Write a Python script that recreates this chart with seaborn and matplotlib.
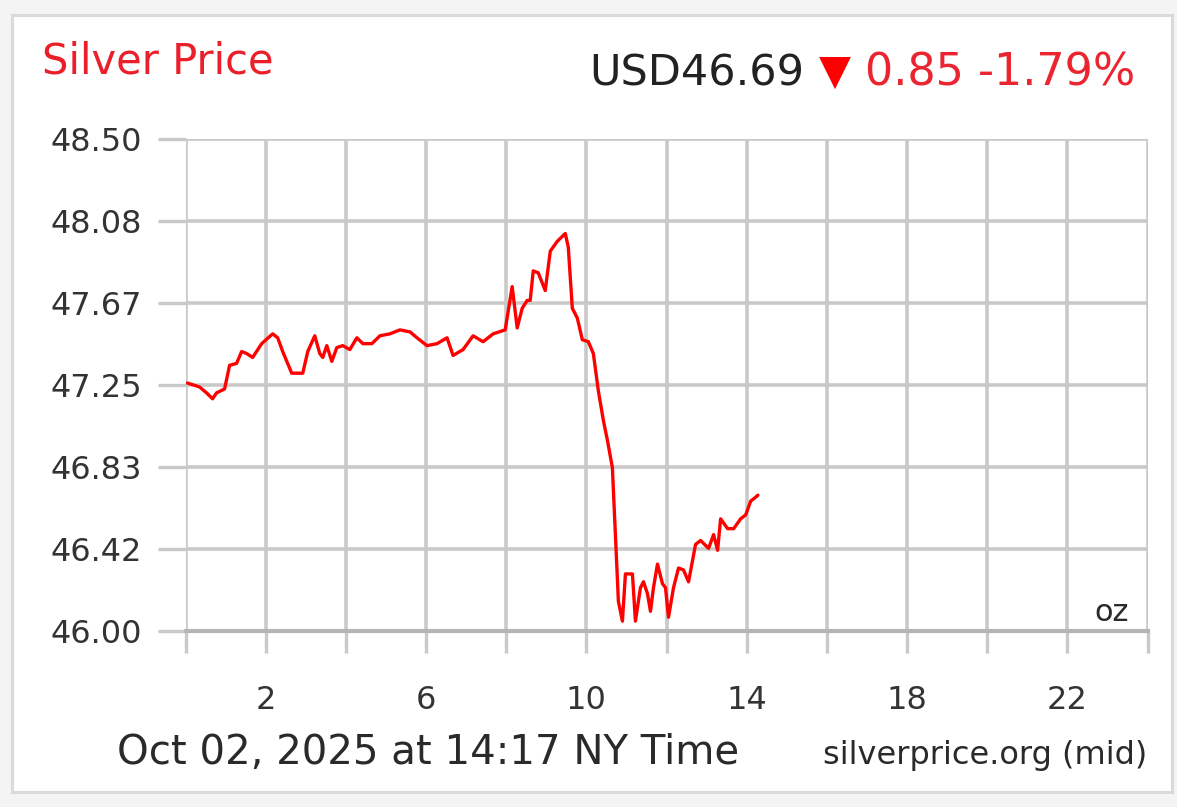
import matplotlib
matplotlib.use("Agg")
import matplotlib.pyplot as plt
from matplotlib.patches import Rectangle
import seaborn as sns
import pandas as pd

# ---- data ----
hours = [0.05, 0.35, 0.525, 0.675, 0.775, 0.975, 1.1, 1.275, 1.4, 1.525, 1.675, 1.9,
         2.175, 2.3, 2.425, 2.65, 2.925, 3.05, 3.225, 3.35, 3.425, 3.525, 3.65, 3.775,
         3.925, 4.1, 4.275, 4.425, 4.65, 4.85, 5.1, 5.35, 5.6, 5.775, 6.025, 6.275,
         6.525, 6.675, 6.925, 7.175, 7.425, 7.675, 7.975, 8.15, 8.275, 8.4, 8.525, 8.6,
         8.675, 8.8, 8.975, 9.1, 9.275, 9.475, 9.55, 9.65, 9.775, 9.9, 10.05, 10.175,
         10.3, 10.425, 10.525, 10.65, 10.725, 10.8, 10.9, 10.975, 11.15, 11.225, 11.35,
         11.425, 11.525, 11.6, 11.675, 11.775, 11.9, 11.975, 12.05, 12.175, 12.3,
         12.425, 12.55, 12.725, 12.85, 13.05, 13.175, 13.275, 13.35, 13.525, 13.675,
         13.85, 13.975, 14.1, 14.225, 14.28]
prices = [47.26, 47.24, 47.21, 47.18, 47.21, 47.23, 47.35, 47.36, 47.42, 47.41, 47.39, 47.46,
          47.51, 47.49, 47.42, 47.31, 47.31, 47.42, 47.50, 47.41, 47.39, 47.45, 47.37, 47.44,
          47.45, 47.43, 47.49, 47.46, 47.46, 47.50, 47.51, 47.53, 47.52, 47.49, 47.45, 47.46,
          47.49, 47.40, 47.43, 47.50, 47.47, 47.51, 47.53, 47.75, 47.54, 47.64, 47.68, 47.68,
          47.83, 47.82, 47.73, 47.93, 47.98, 48.02, 47.95, 47.64, 47.59, 47.48, 47.47, 47.41,
          47.22, 47.07, 46.97, 46.83, 46.49, 46.15, 46.05, 46.29, 46.29, 46.05, 46.22,
          46.25, 46.19, 46.10, 46.22, 46.34, 46.24, 46.22, 46.07, 46.22, 46.32,
          46.31, 46.25, 46.44, 46.46, 46.42, 46.49, 46.41, 46.57, 46.52, 46.52,
          46.57, 46.59, 46.66, 46.68, 46.69]

x_ticks = [0, 2, 4, 6, 8, 10, 12, 14, 16, 18, 20, 22, 24]
x_tick_labels = ["", "2", "", "6", "", "10", "", "14", "", "18", "", "22", ""]
y_ticks = [46.0, 46.4167, 46.8333, 47.25, 47.6667, 48.0833, 48.5]
y_tick_labels = ["46.00", "46.42", "46.83", "47.25", "47.67", "48.08", "48.50"]

title_left = "Silver Price"
price_text = "USD46.69"
change_text = "0.85 -1.79%"
footer_left = "Oct 02, 2025 at 14:17 NY Time"
footer_right = "silverprice.org (mid)"
unit_text = "oz"

# ---- style ----
sns.set_style("white")
plt.rcParams["font.family"] = ["DejaVu Sans"]

W, H = 1177, 807
fig = plt.figure(figsize=(W / 100, H / 100), dpi=100, facecolor="#f4f4f4")


def fx(px):
    return px / W


def fy(py):
    return 1 - py / H


# white panel with light border
panel = Rectangle((fx(12), fy(792)), fx(1172) - fx(12), fy(15) - fy(792),
                  transform=fig.transFigure, facecolor="white", edgecolor="#dadada",
                  linewidth=2.2, zorder=-10)
fig.patches.append(panel)

ax = fig.add_axes([fx(185.5), fy(631), fx(1147.5) - fx(185.5), fy(139) - fy(631)])
ax.set_facecolor("white")

df = pd.DataFrame({"hour": hours, "price": prices})
sns.lineplot(data=df, x="hour", y="price", ax=ax, color="#ff0000", linewidth=2.4,
             zorder=5)

ax.set_xlim(0, 24)
ax.set_ylim(46.0, 48.5)
ax.set_xticks(x_ticks)
ax.set_xticklabels(x_tick_labels)
ax.set_yticks(y_ticks)
ax.set_yticklabels(y_tick_labels)
ax.set_xlabel("")
ax.set_ylabel("")

grid_c = "#c9c9c9"
ax.grid(True, color=grid_c, linewidth=2.6, zorder=1)
ax.set_axisbelow(True)
for s in ["top", "right", "left"]:
    ax.spines[s].set_visible(False)
ax.spines["bottom"].set_color("#b5b5b5")
ax.spines["bottom"].set_linewidth(3.0)

ax.tick_params(axis="x", length=16, width=2.4, color=grid_c, pad=23,
               labelsize=23, labelcolor="#333333", direction="out")
ax.tick_params(axis="y", length=20, width=2.4, color=grid_c, pad=11,
               labelsize=23, labelcolor="#333333", direction="out")
ax.xaxis.set_ticks_position("bottom")
ax.yaxis.set_ticks_position("left")

# ---- texts ----
fig.text(fx(42), fy(73), title_left, color="#ea1f2a", fontsize=30,
         ha="left", va="baseline")
fig.text(fx(804), fy(85), price_text, color="#222222", fontsize=31,
         ha="right", va="baseline")
fig.text(fx(835), fy(85), "\u25BC", color="#ff0000", fontsize=30,
         ha="center", va="baseline")
fig.text(fx(865), fy(85), change_text, color="#ea2530", fontsize=32,
         ha="left", va="baseline")

fig.text(fx(117), fy(764), footer_left, color="#2a2a2a", fontsize=29,
         ha="left", va="baseline")
fig.text(fx(1147), fy(764), footer_right, color="#2a2a2a", fontsize=23,
         ha="right", va="baseline")
fig.text(fx(1129), fy(621), unit_text, color="#2a2a2a", fontsize=22,
         ha="right", va="baseline")

fig.savefig("out.png", dpi=100, facecolor=fig.get_facecolor())
